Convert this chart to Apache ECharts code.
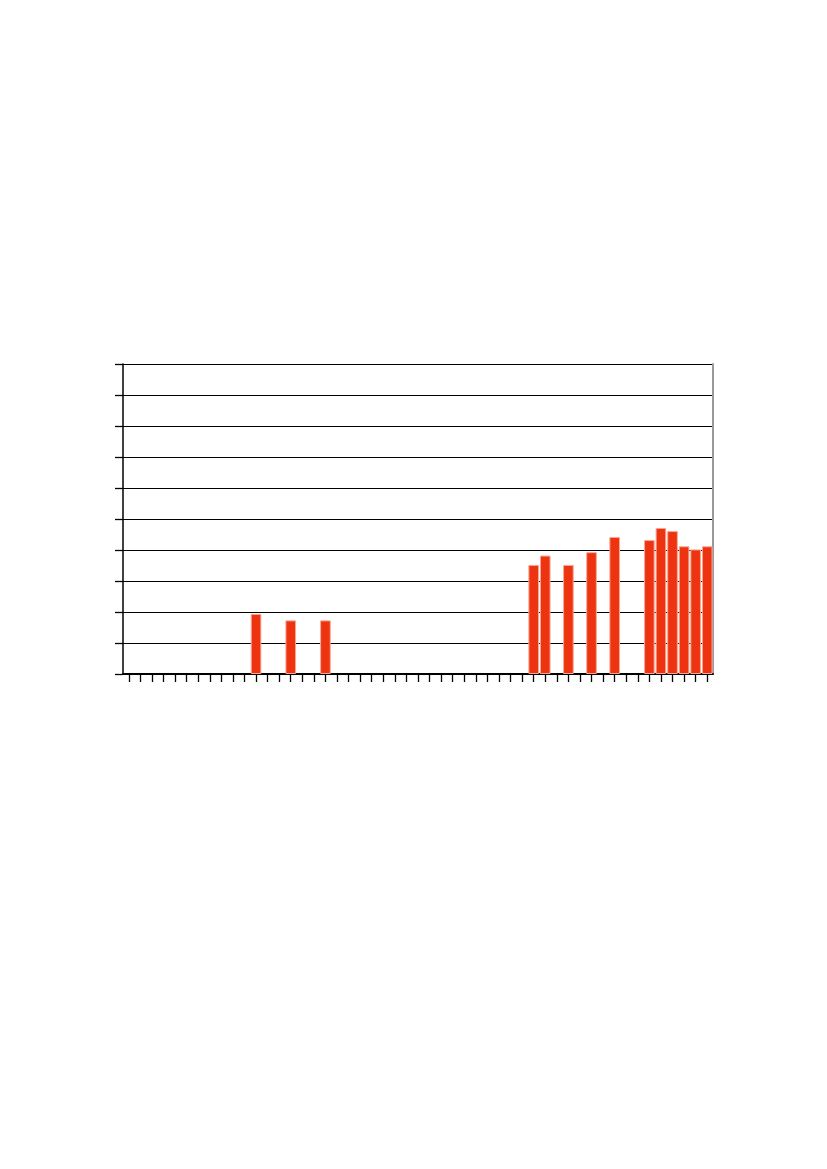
<!DOCTYPE html>
<html>
<head>
<meta charset="utf-8">
<script src="https://cdn.jsdelivr.net/npm/echarts@6/dist/echarts.min.js"></script>
<style>
html, body { margin: 0; padding: 0; background: #fff; }
#chart { width: 827px; height: 1169px; }
</style>
</head>
<body>
<div id="chart"></div>
<script>
// ------------------ data ------------------
var categories = [];
for (var i = 1; i <= 51; i++) categories.push(String(i));

var values = [
    null, null, null, null, null, null, null, null, null, null,
    null, 1.94, null, null, 1.73, null, null, 1.73, null, null,
    null, null, null, null, null, null, null, null, null, null,
    null, null, null, null, null, 3.52, 3.82, null, 3.52, null,
    3.93, null, 4.42, null, null, 4.32, 4.71, 4.61, 4.12, 4.02,
    4.12
];

var yMin = 0, yMax = 10, yStep = 1;

// ------------------ chart ------------------
var myChart = echarts.init(document.getElementById('chart'));
var option = {
    animation: false,
    backgroundColor: '#fff',
    grid: {
        left: 123,
        right: 114,
        top: 364,
        bottom: 495,
        containLabel: false
    },
    xAxis: {
        type: 'category',
        data: categories,
        boundaryGap: true,
        axisLine: {show: true, lineStyle: {color: '#000', width: 2}},
        axisTick: {show: true, interval: 0, alignWithLabel: true, length: 8, lineStyle: {color: '#000', width: 1.3}},
        axisLabel: {show: false, interval: 0},
        splitLine: {show: false}
    },
    yAxis: [{
        type: 'value',
        min: yMin,
        max: yMax,
        interval: yStep,
        axisLine: {show: true, lineStyle: {color: '#000', width: 1.5}},
        axisTick: {show: true, inside: false, length: 8, lineStyle: {color: '#000', width: 1.3}},
        axisLabel: {show: false},
        splitLine: {show: true, lineStyle: {color: '#000', width: 1}}
    }, {
        type: 'value',
        position: 'right',
        min: yMin,
        max: yMax,
        interval: yStep,
        axisLine: {show: true, lineStyle: {color: '#999', width: 2}},
        axisTick: {show: false},
        axisLabel: {show: false},
        splitLine: {show: false}
    }],
    series: [{
        type: 'bar',
        data: values,
        barWidth: '92%',
        itemStyle: {
            color: '#EE3311',
            borderColor: '#F7A896',
            borderWidth: 1
        }
    }]
};
myChart.setOption(option);
</script>
</body>
</html>
